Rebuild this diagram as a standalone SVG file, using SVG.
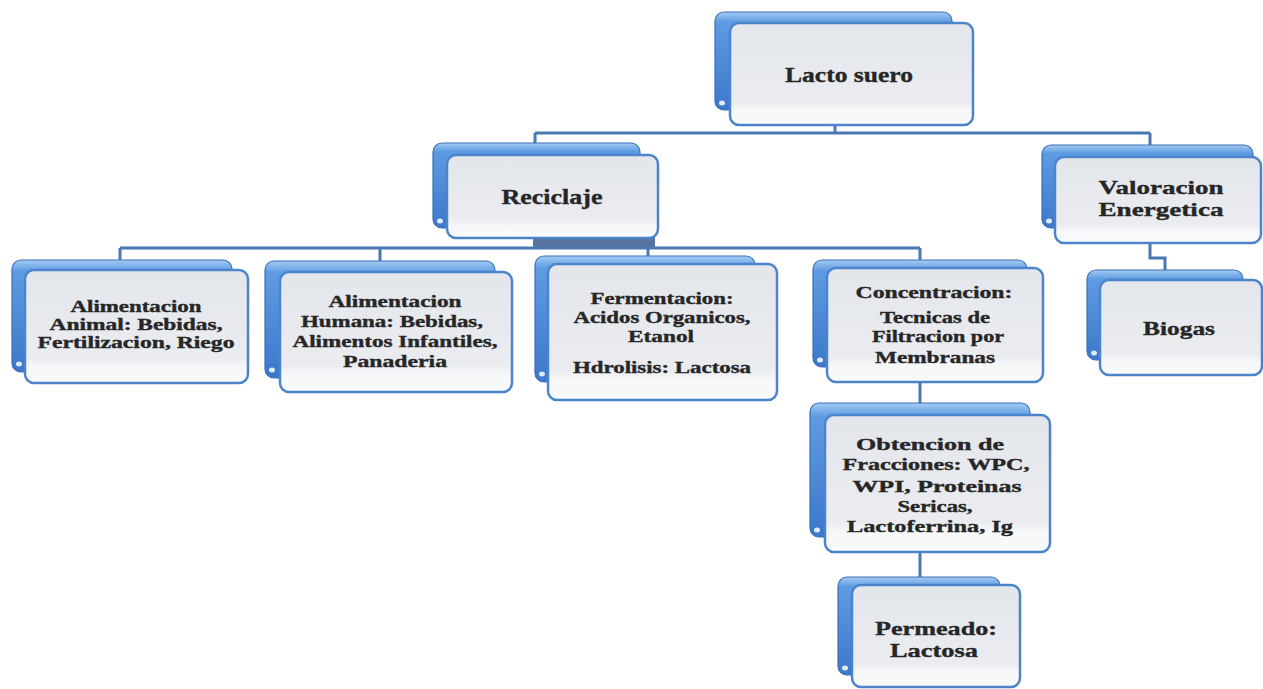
<svg xmlns="http://www.w3.org/2000/svg" width="1263" height="689" viewBox="0 0 1263 689">
<defs>
<linearGradient id="gb" x1="0" y1="0" x2="0" y2="1">
<stop offset="0" stop-color="#a3cbf3"/>
<stop offset="0.1" stop-color="#5e9be2"/>
<stop offset="1" stop-color="#3c78cb"/>
</linearGradient>
<linearGradient id="gf" x1="0" y1="0" x2="0" y2="1">
<stop offset="0" stop-color="#e3e6eb"/>
<stop offset="0.78" stop-color="#eaecf0"/>
<stop offset="0.85" stop-color="#f6f7f9"/>
<stop offset="1" stop-color="#f9fafb"/>
</linearGradient>
<style>
.back{fill:url(#gb);stroke:#3a6fb8;stroke-width:1.2}
.front{fill:url(#gf);stroke:#4c84cb;stroke-width:2.5}
.dot{fill:#ffffff;opacity:0.85}
.t{font-family:"Liberation Serif","Times New Roman",serif;font-weight:bold;fill:#262626;stroke:#262626;stroke-width:0.35;text-anchor:middle}
.s16{font-size:16px}
.s19{font-size:19px}
.s21{font-size:21px}
.s22{font-size:22px}
.c{fill:none;stroke:#4a78b4;stroke-width:3}
</style>
</defs>
<rect width="1263" height="689" fill="#ffffff"/>

<g id="connectors">
<path class="c" d="M835,120 V133 M535,133 H1150 M535,133 V146 M1150,133 V148"/>
<path class="c" d="M536,236 V248 M120,248 H920 M120,248 V262 M380,248 V263 M648,248 V258 M920,248 V262"/>
<path class="c" d="M1150,240 V258 H1165 V272"/>
<path class="c" d="M920,380 V405"/>
<path class="c" d="M920,550 V579"/>
<rect x="533" y="236" width="122" height="11" fill="#56749f"/>
</g>

<g id="n-lacto">
<rect class="back" x="715" y="12" width="237" height="98" rx="9"/>
<ellipse class="dot" cx="722" cy="103" rx="3" ry="2.5"/>
<rect class="front" x="730" y="23" width="243" height="102" rx="9"/>
<text class="t s22" x="849" y="82" textLength="128" lengthAdjust="spacingAndGlyphs">Lacto suero</text>
</g>

<g id="n-reciclaje">
<rect class="back" x="433" y="143" width="207" height="85" rx="9"/>
<ellipse class="dot" cx="440" cy="221" rx="3" ry="2.5"/>
<rect class="front" x="447" y="155" width="211" height="83" rx="9"/>
<text class="t s21" x="552" y="204" textLength="101" lengthAdjust="spacingAndGlyphs">Reciclaje</text>
</g>

<g id="n-valoracion">
<rect class="back" x="1042" y="145" width="211" height="83" rx="9"/>
<ellipse class="dot" cx="1049" cy="221" rx="3" ry="2.5"/>
<rect class="front" x="1055" y="157" width="206" height="86" rx="9"/>
<text class="t s19" x="1161" y="194" textLength="125" lengthAdjust="spacingAndGlyphs">Valoracion</text>
<text class="t s19" x="1161" y="216" textLength="125" lengthAdjust="spacingAndGlyphs">Energetica</text>
</g>

<g id="n-animal">
<rect class="back" x="12" y="260" width="220" height="112" rx="9"/>
<ellipse class="dot" cx="19" cy="364" rx="3" ry="2.5"/>
<rect class="front" x="25" y="270" width="223" height="113" rx="9"/>
<text class="t s16" x="136" y="312" textLength="131" lengthAdjust="spacingAndGlyphs">Alimentacion</text>
<text class="t s16" x="136" y="330" textLength="173" lengthAdjust="spacingAndGlyphs">Animal: Bebidas,</text>
<text class="t s16" x="136" y="348" textLength="197" lengthAdjust="spacingAndGlyphs">Fertilizacion, Riego</text>
</g>

<g id="n-humana">
<rect class="back" x="265" y="261" width="230" height="117" rx="9"/>
<ellipse class="dot" cx="272" cy="370" rx="3" ry="2.5"/>
<rect class="front" x="280" y="272" width="232" height="120" rx="9"/>
<text class="t s16" x="395" y="307" textLength="133" lengthAdjust="spacingAndGlyphs">Alimentacion</text>
<text class="t s16" x="392" y="327" textLength="182" lengthAdjust="spacingAndGlyphs">Humana: Bebidas,</text>
<text class="t s16" x="395" y="347" textLength="205" lengthAdjust="spacingAndGlyphs">Alimentos Infantiles,</text>
<text class="t s16" x="395" y="367" textLength="104" lengthAdjust="spacingAndGlyphs">Panaderia</text>
</g>

<g id="n-fermentacion">
<rect class="back" x="535" y="256" width="220" height="126" rx="9"/>
<ellipse class="dot" cx="542" cy="374" rx="3" ry="2.5"/>
<rect class="front" x="548" y="264" width="229" height="136" rx="9"/>
<text class="t s16" x="662" y="304" textLength="143" lengthAdjust="spacingAndGlyphs">Fermentacion:</text>
<text class="t s16" x="662" y="323" textLength="177" lengthAdjust="spacingAndGlyphs">Acidos Organicos,</text>
<text class="t s16" x="661" y="342" textLength="66" lengthAdjust="spacingAndGlyphs">Etanol</text>
<text class="t s16" x="662" y="373" textLength="178" lengthAdjust="spacingAndGlyphs">Hdrolisis: Lactosa</text>
</g>

<g id="n-concentracion">
<rect class="back" x="813" y="260" width="214" height="107" rx="9"/>
<ellipse class="dot" cx="820" cy="360" rx="3" ry="2.5"/>
<rect class="front" x="827" y="268" width="216" height="114" rx="9"/>
<text class="t s16" x="934" y="298" textLength="157" lengthAdjust="spacingAndGlyphs">Concentracion:</text>
<text class="t s16" x="935" y="323" textLength="110" lengthAdjust="spacingAndGlyphs">Tecnicas de</text>
<text class="t s16" x="938" y="342" textLength="132" lengthAdjust="spacingAndGlyphs">Filtracion por</text>
<text class="t s16" x="935" y="363" textLength="120" lengthAdjust="spacingAndGlyphs">Membranas</text>
</g>

<g id="n-biogas">
<rect class="back" x="1087" y="270" width="156" height="90" rx="9"/>
<ellipse class="dot" cx="1094" cy="353" rx="3" ry="2.5"/>
<rect class="front" x="1100" y="280" width="162" height="95" rx="9"/>
<text class="t s19" x="1179" y="335" textLength="72" lengthAdjust="spacingAndGlyphs">Biogas</text>
</g>

<g id="n-obtencion">
<rect class="back" x="810" y="403" width="220" height="134" rx="9"/>
<ellipse class="dot" cx="817" cy="530" rx="3" ry="2.5"/>
<rect class="front" x="825" y="415" width="225" height="137" rx="9"/>
<text class="t s16" x="930" y="450" textLength="148" lengthAdjust="spacingAndGlyphs">Obtencion de</text>
<text class="t s16" x="936" y="470" textLength="187" lengthAdjust="spacingAndGlyphs">Fracciones: WPC,</text>
<text class="t s16" x="937" y="492" textLength="169" lengthAdjust="spacingAndGlyphs">WPI, Proteinas</text>
<text class="t s16" x="935" y="512" textLength="75" lengthAdjust="spacingAndGlyphs">Sericas,</text>
<text class="t s16" x="930" y="532" textLength="166" lengthAdjust="spacingAndGlyphs">Lactoferrina, Ig</text>
</g>

<g id="n-permeado">
<rect class="back" x="838" y="577" width="162" height="98" rx="9"/>
<ellipse class="dot" cx="845" cy="668" rx="3" ry="2.5"/>
<rect class="front" x="852" y="585" width="168" height="102" rx="9"/>
<text class="t s19" x="936" y="635" textLength="122" lengthAdjust="spacingAndGlyphs">Permeado:</text>
<text class="t s19" x="934" y="657" textLength="88" lengthAdjust="spacingAndGlyphs">Lactosa</text>
</g>
</svg>
